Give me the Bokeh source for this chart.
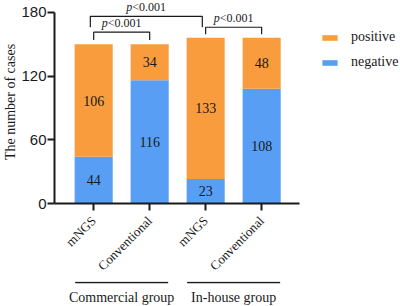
import math
from bokeh.plotting import figure
from bokeh.models import ColumnDataSource, FixedTicker, Range1d, Legend, LegendItem
from bokeh.layouts import column
from bokeh.embed import file_html
from bokeh.resources import INLINE
from bokeh.core.properties import value

# ---------------- data ----------------
methods = ["mNGS", "Conventional", "mNGS", "Conventional"]
groups = ["Commercial group", "In-house group"]
group_members = [(0, 1), (2, 3)]
negative = [44, 116, 23, 108]
positive = [106, 34, 133, 48]
comparisons = [(0, 1), (0, 2), (2, 3)]
p_values = ["<0.001", "<0.001", "<0.001"]
y_ticks = [0, 60, 120, 180]
legend_labels = ["positive", "negative"]

# ---------------- style ----------------
ORANGE = "#F89C3E"
BLUE = "#589EF4"
INK = "#1a1a1a"
SERIF = "Liberation Serif"
SANS = "Liberation Sans"
MAIN_H = 281
STRIP_H = 306 - MAIN_H

xs = list(range(len(methods)))
src = ColumnDataSource(dict(x=xs, negative=negative, positive=positive))

x_range = Range1d(-0.7, 5.48)
p = figure(width=400, height=MAIN_H, x_range=x_range, y_range=Range1d(0, 191.2),
           output_backend="svg", toolbar_location=None,
           min_border_left=54, min_border_right=0, min_border_top=0, min_border_bottom=70)
p.outline_line_color = None
p.xgrid.visible = False
p.ygrid.visible = False

renderers = p.vbar_stack(["negative", "positive"], x="x", width=0.68, source=src,
                         color=[BLUE, ORANGE], line_color=None)
r_neg, r_pos = renderers

# value labels inside segments
lab_x, lab_y, lab_t = [], [], []
for i in xs:
    lab_x += [i, i]
    lab_y += [negative[i] / 2, negative[i] + positive[i] / 2]
    lab_t += [str(negative[i]), str(positive[i])]
p.text(x=lab_x, y=lab_y, text=lab_t, text_font=value(SERIF), text_font_size="14px",
       text_align="center", text_baseline="middle", text_color=INK)

# significance brackets
levels = [161.4, 176.3, 166.0]
drops = [7.5, 10.3, 6.5]
shifts = [0.0, -0.06, 0.0]
bxs, bys, tx, ty = [], [], [], []
for (a, b), h, d, s in zip(comparisons, levels, drops, shifts):
    xa, xb = a + s, b + s
    bxs.append([xa, xa, xb, xb])
    bys.append([h - d, h, h, h - d])
    tx.append((xa + xb) / 2)
    ty.append(h)
p.multi_line(xs=bxs, ys=bys, line_color=INK, line_width=1.2)
p.text(x=tx, y=ty, text=["p"] * len(tx), text_font=value(SERIF), text_font_style="italic",
       text_font_size="12px", text_align="right", text_baseline="middle",
       x_offset=-14, y_offset=-9, text_color=INK)
p.text(x=tx, y=ty, text=p_values, text_font=value(SERIF),
       text_font_size="12px", text_align="left", text_baseline="middle",
       x_offset=-14, y_offset=-9, text_color=INK)

# axes
xa_ = p.xaxis[0]
xa_.ticker = FixedTicker(ticks=xs)
xa_.major_label_overrides = {i: m for i, m in zip(xs, methods)}
xa_.bounds = (-0.7, 3.68)
xa_.major_label_orientation = math.pi / 4
xa_.major_label_standoff = 8
xa_.major_label_text_font = SERIF
xa_.major_label_text_font_size = "13px"
xa_.major_label_text_color = INK
xa_.minor_tick_line_color = None
xa_.major_tick_in = 0
xa_.major_tick_out = 7
xa_.axis_line_width = 2
xa_.major_tick_line_width = 2
xa_.axis_line_color = INK
xa_.major_tick_line_color = INK

ya = p.yaxis[0]
ya.ticker = FixedTicker(ticks=y_ticks)
ya.bounds = (0, 180)
ya.axis_label = "The number of cases"
ya.axis_label_text_font = SERIF
ya.axis_label_text_font_style = "normal"
ya.axis_label_text_font_size = "14px"
ya.axis_label_text_color = INK
ya.axis_label_standoff = 0
ya.major_label_text_font = SANS
ya.major_label_text_font_size = "15px"
ya.major_label_text_color = INK
ya.major_label_standoff = 1
ya.minor_tick_line_color = None
ya.major_tick_in = 0
ya.major_tick_out = 7
ya.axis_line_width = 2
ya.major_tick_line_width = 2
ya.axis_line_color = INK
ya.major_tick_line_color = INK

legend = Legend(items=[LegendItem(label=legend_labels[0], renderers=[r_pos]),
                       LegendItem(label=legend_labels[1], renderers=[r_neg])],
                location=(266, 131), orientation="vertical",
                glyph_width=19, glyph_height=7, label_standoff=12,
                label_height=20, label_width=50, spacing=5, padding=0, margin=0,
                label_text_font=SERIF, label_text_font_size="14px", label_text_color=INK,
                border_line_color=None, background_fill_alpha=0)
p.add_layout(legend)

# group labels strip (shares the x scale)
q = figure(width=400, height=STRIP_H, x_range=x_range, y_range=Range1d(STRIP_H, 0),
           output_backend="svg", toolbar_location=None,
           min_border_left=54, min_border_right=0, min_border_top=0, min_border_bottom=0,
           x_axis_type=None, y_axis_type=None)
q.outline_line_color = None
q.xgrid.visible = False
q.ygrid.visible = False
gx0, gx1, gc = [], [], []
for a, b in group_members:
    c = (a + b) / 2
    gc.append(c)
    gx0.append(c - 0.83)
    gx1.append(c + 0.83)
q.segment(x0=gx0, y0=[1.0] * len(gc), x1=gx1, y1=[1.0] * len(gc), line_color=INK, line_width=1.6)
q.text(x=gc, y=[16] * len(gc), text=groups, text_font=value(SERIF), text_font_size="14px",
       text_align="center", text_baseline="middle", text_color=INK)

layout = column(p, q, spacing=0)
open("out.html", "w").write(file_html(layout, INLINE))
